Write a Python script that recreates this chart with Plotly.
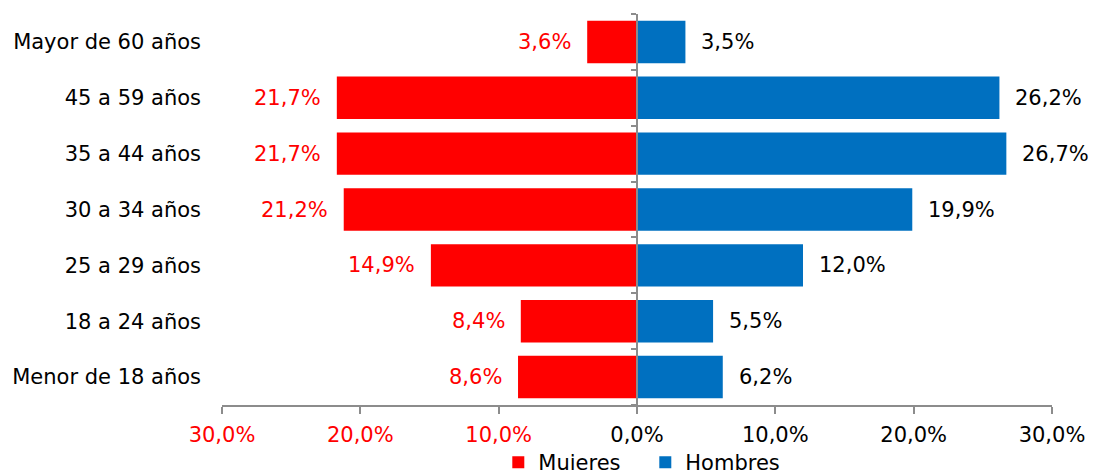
import plotly.graph_objects as go

categories = ["Menor de 18 años", "18 a 24 años", "25 a 29 años", "30 a 34 años",
              "35 a 44 años", "45 a 59 años", "Mayor de 60 años"]
mujeres = [8.6, 8.4, 14.9, 21.2, 21.7, 21.7, 3.6]
hombres = [6.2, 5.5, 12.0, 19.9, 26.7, 26.2, 3.5]
tick_vals = [-30, -20, -10, 0, 10, 20, 30]
tick_text = ["30,0%", "20,0%", "10,0%", "0,0%", "10,0%", "20,0%", "30,0%"]

RED = "#FF0000"
BLUE = "#0070C0"
GRAY = "#8C8C8C"
FONT = "DejaVu Sans"
FS = 21

def fmt(v):
    return f"{v:.1f}".replace(".", ",") + "%"

fig = go.Figure()
fig.add_trace(go.Bar(y=categories, x=[-v for v in mujeres], orientation="h", name="Mujeres",
                     marker=dict(color=RED, line=dict(width=0)), width=0.76, hoverinfo="skip"))
fig.add_trace(go.Bar(y=categories, x=hombres, orientation="h", name="Hombres",
                     marker=dict(color=BLUE, line=dict(width=0)), width=0.76, hoverinfo="skip"))

annotations = []
for c, m, h in zip(categories, mujeres, hombres):
    annotations.append(dict(x=-m, y=c, xref="x", yref="y", text=fmt(m), showarrow=False,
                            xanchor="right", xshift=-14, font=dict(color=RED, size=FS, family=FONT)))
    annotations.append(dict(x=h, y=c, xref="x", yref="y", text=fmt(h), showarrow=False,
                            xanchor="left", xshift=14, font=dict(color="#000000", size=FS, family=FONT)))

ticktext_colored = [f'<span style="color:{RED}">{t}</span>' if v < 0 else t
                    for v, t in zip(tick_vals, tick_text)]

fig.update_layout(
    width=1097, height=470,
    margin=dict(l=222, r=45, t=14, b=65, autoexpand=False),
    paper_bgcolor="white", plot_bgcolor="white",
    barmode="relative",
    font=dict(family=FONT, size=FS, color="#000000"),
    annotations=annotations,
    showlegend=True,
    legend=dict(orientation="h", x=0.51, xanchor="center", y=-0.095, yanchor="top",
                font=dict(size=FS, family=FONT), itemwidth=30, traceorder="normal",
                entrywidth=102, bgcolor="rgba(0,0,0,0)"),
    xaxis=dict(range=[-30, 30], tickvals=tick_vals, ticktext=ticktext_colored,
               showgrid=False, zeroline=False, showline=True, linecolor=GRAY, linewidth=2,
               ticks="outside", ticklen=7, tickwidth=2, tickcolor=GRAY, ticklabelstandoff=3,
               tickfont=dict(size=FS, family=FONT, color="#000000"), fixedrange=True),
    yaxis=dict(categoryorder="array", categoryarray=categories, range=[-0.5, 6.5],
               showgrid=False, zeroline=False, showline=False, ticks="",
               ticklabelstandoff=20, tickfont=dict(size=FS, family=FONT, color="#000000")),
    yaxis2=dict(overlaying="y", anchor="free", position=0.5, range=[-0.5, 6.5],
                tickvals=[-0.5, 0.5, 1.5, 2.5, 3.5, 4.5, 5.5, 6.5], showticklabels=False,
                showgrid=False, zeroline=False, showline=True, linecolor=GRAY, linewidth=1.5,
                ticks="outside", ticklen=5, tickwidth=1.5, tickcolor=GRAY, side="left"),
)
# invisible helper trace so the centre axis is drawn
fig.add_trace(go.Scatter(x=[0], y=[0], yaxis="y2", mode="markers", marker=dict(opacity=0),
                         showlegend=False, hoverinfo="skip"))

fig.write_html("out.html", config={"displayModeBar": False},
               post_script="document.body.style.margin='0';")
